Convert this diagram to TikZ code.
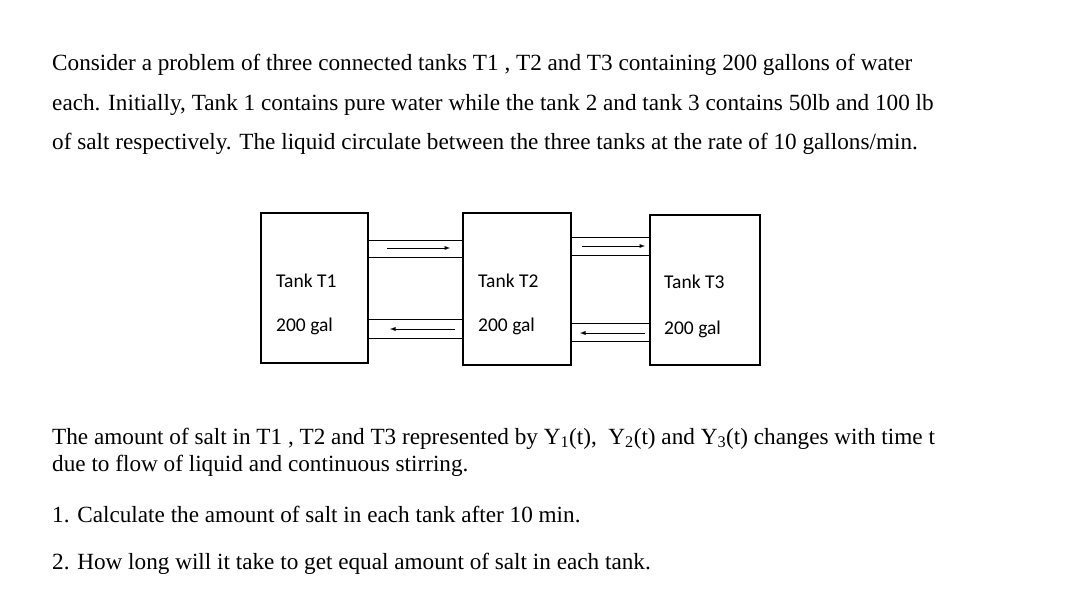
\documentclass[tikz,border=0pt]{standalone}
\usepackage{fontspec}
\setmainfont{Liberation Serif}
\newfontfamily\tankfont{Carlito}
\begin{document}
\begin{tikzpicture}[x=1pt,y=-1pt,
  tank/.style={draw,line width=1.3pt},
  pipe/.style={draw,line width=0.9pt},
  flow/.style={-latex,line width=0.9pt},
  body/.style={anchor=base west,inner sep=0,font=\fontsize{23.2}{26}\selectfont},
  tlab/.style={anchor=base west,inner sep=0,font=\tankfont\fontsize{19.5}{22}\selectfont}]
\useasboundingbox[fill=white] (0,0) rectangle (1080,616);
\node[body,text width=910pt,align=justify] (l1) at (52,70) {\parfillskip=0pt Consider a problem of three connected tanks T1 , T2 and T3 containing 200 gallons of water};
\node[body,text width=910pt,align=justify] (l2) at (52,110) {\parfillskip=0pt each. Initially, Tank 1 contains pure water while the tank 2 and tank 3 contains 50lb and 100 lb};
\node[body] (l3) at (52,149) {of salt respectively. The liquid circulate between the three tanks at the rate of 10 gallons/min.};
% tanks
\draw[tank] (261,213) rectangle (368,363);
\draw[tank] (463,213) rectangle (571,365);
\draw[tank] (650,215) rectangle (760,365);
% pipes
\draw[pipe] (368,240) -- (463,240) (368,257) -- (463,257);
\draw[pipe] (368,319) -- (463,319) (368,338) -- (463,338);
\draw[pipe] (571,237) -- (650,237) (571,255) -- (650,255);
\draw[pipe] (571,323) -- (650,323) (571,341) -- (650,341);
\coordinate (a1s) at (387,248); \coordinate (a1e) at (450,248);
\coordinate (a2s) at (455,329); \coordinate (a2e) at (390,329);
\coordinate (a3s) at (582,246); \coordinate (a3e) at (645,246);
\coordinate (a4s) at (645,333); \coordinate (a4e) at (580,333);
\draw[flow] (a1s) -- (a1e);
\draw[flow] (a2s) -- (a2e);
\draw[flow] (a3s) -- (a3e);
\draw[flow] (a4s) -- (a4e);
\node[tlab] (n1) at (276,287) {Tank T1};
\node[tlab] (n2) at (478,287) {Tank T2};
\node[tlab] (n3) at (664,288) {Tank T3};
\node[tlab] (g1) at (276,331) {200 gal};
\node[tlab] (g2) at (478,331) {200 gal};
\node[tlab] (g3) at (664,334) {200 gal};
\node[body] (l4) at (52,444) {The amount of salt in T1 , T2 and T3 represented by Y\textsubscript{1}(t), \ Y\textsubscript{2}(t) and Y\textsubscript{3}(t) changes with time t};
\node[body] (l5) at (52,471) {due to flow of liquid and continuous stirring.};
\node[body] (l6) at (52,522) {1. Calculate the amount of salt in each tank after 10 min.};
\node[body] (l7) at (52,569) {2. How long will it take to get equal amount of salt in each tank.};
\end{tikzpicture}
\end{document}
